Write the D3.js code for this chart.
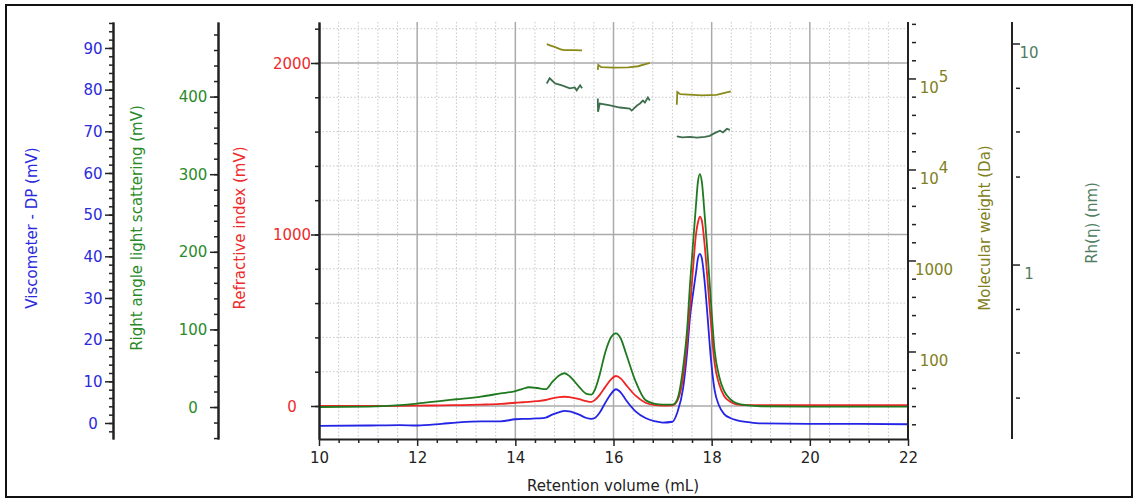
<!DOCTYPE html>
<html>
<head>
<meta charset="utf-8">
<script src="https://cdn.jsdelivr.net/npm/d3@7"></script>
<style>
body { margin: 0; background: #fff; }
svg { display: block; font-family: "DejaVu Sans", sans-serif; }
</style>
</head>
<body>
<div id="viz"></div>
<script>
// chromatogram traces (volume in mL)
const volume = [10, 11, 11.65, 12, 12.5, 12.8, 13.3, 13.7, 14, 14.15, 14.28, 14.45, 14.62, 14.75, 14.9, 15, 15.1, 15.3, 15.45, 15.55, 15.62, 15.72, 15.83, 15.95, 16.05, 16.15, 16.25, 16.45, 16.65, 16.85, 17, 17.2, 17.3, 17.42, 17.5, 17.56, 17.62, 17.68, 17.72, 17.76, 17.8, 17.86, 17.92, 17.98, 18.06, 18.15, 18.25, 18.38, 18.5, 18.75, 19, 20, 21, 22];
const viscometer = [-0.7, -0.6, -0.5, -0.6, -0.2, 0.1, 0.4, 0.4, 0.9, 1.0, 1.0, 1.1, 1.3, 2.0, 2.6, 2.9, 2.8, 2.0, 1.2, 1.0, 1.2, 2.5, 4.8, 7.0, 8.1, 7.3, 5.6, 2.8, 1.2, 0.4, 0.1, 0.3, 2.5, 8.5, 17, 25.5, 31, 36, 39.5, 40.6, 39.5, 33.5, 25, 16, 7.9, 4.2, 2.2, 1.2, 0.7, 0.2, -0.1, -0.2, -0.2, -0.3];
const rals = [0, 0.5, 2.5, 4.5, 8, 10, 13.5, 17.5, 20.5, 23.5, 25.5, 24.5, 23, 32, 41, 43.5, 40, 26, 17, 16, 22, 42, 70, 90, 95, 88, 70, 33, 9, 4, 3, 3, 10, 52, 100, 159, 210, 260, 290, 300, 290, 245, 195, 140, 73, 40, 21, 10, 5, 2, 1, 0.5, 0.5, 0.4];
const ri = [0, 0, 1, 2, 4, 5, 8, 12, 19, 22, 24, 28, 35, 45, 52, 54, 52, 40, 28, 24, 35, 65, 110, 155, 175, 160, 125, 60, 19, 5, 3, 4, 30, 171, 380, 579, 800, 1000, 1070, 1104, 1080, 929, 720, 500, 249, 130, 60, 25, 10, 5, 5, 5, 5, 5];

// molecular weight segments (Da)
const mwVolume1 = [14.64, 14.8, 15.0, 15.2, 15.36];
const mw1 = [242000, 225000, 208000, 207000, 206000];
const mwVolume2 = [15.68, 15.69, 15.75, 16.0, 16.3, 16.5, 16.74];
const mw2 = [126000, 143000, 135000, 133000, 134000, 138000, 150000];
const mwVolume3 = [17.29, 17.3, 17.36, 17.8, 18.1, 18.39];
const mw3 = [52000, 72000, 68000, 66000, 67000, 73000];

// hydrodynamic radius segments (nm)
const rhVolume1 = [14.64, 14.7, 14.81, 14.95, 15.11, 15.21, 15.25, 15.32, 15.36];
const rh1 = [6.63, 7.0, 6.63, 6.5, 6.3, 6.36, 6.17, 6.5, 6.3];
const rhVolume2 = [15.68, 15.685, 15.72, 15.93, 16.13, 16.33, 16.37, 16.48, 16.54, 16.6, 16.64, 16.7, 16.74];
const rh2 = [5.67, 4.94, 5.38, 5.27, 5.16, 5.1, 5.0, 5.27, 5.38, 5.55, 5.43, 5.73, 5.55];
const rhVolume3 = [17.29, 17.4, 17.56, 17.7, 17.86, 17.96, 18.07, 18.17, 18.23, 18.31, 18.37];
const rh3 = [3.82, 3.78, 3.8, 3.77, 3.8, 3.84, 3.96, 4.05, 3.98, 4.13, 4.09];

// axis ticks
const volumeTicks = [10, 12, 14, 16, 18, 20, 22];
const dpTicks = [0, 10, 20, 30, 40, 50, 60, 70, 80, 90];
const lsTicks = [0, 100, 200, 300, 400];
const riTicks = [0, 1000, 2000];
const mwTicks = [100, 1000, 10000, 100000];
const rhTicks = [1, 10];
const rhMinorTicks = [6.3, 4, 2.5, 0.63, 0.4, 0.25];

const W = 1139, H = 503;
const plot = {left: 319, right: 908, top: 22, bottom: 439};

const c = {
  dp: "#2424e4", dpText: "#2b2bdc",
  ls: "#1f7a1f", lsText: "#2a8a2a",
  ri: "#f02424", riText: "#ee2b2b",
  mw: "#8a8a1a", mwText: "#808020",
  rh: "#3f6e4f", rhText: "#4f7d5f"
};

const svg = d3.select("#viz").append("svg")
  .attr("width", W).attr("height", H);

svg.append("rect").attr("x", 6).attr("y", 5).attr("width", 1126).attr("height", 492)
  .attr("fill", "#fff").attr("stroke", "#111").attr("stroke-width", 2);

const x = d3.scaleLinear().domain([10, 22]).range([plot.left, plot.right]);
const yRI = d3.scaleLinear().domain([-192.4, 2239]).range([plot.bottom, plot.top]);
const yLS = d3.scaleLinear().domain([-41.2, 496.1]).range([plot.bottom, plot.top]);
const yDP = d3.scaleLinear().domain([-3.84, 96.23]).range([plot.bottom, plot.top]);
const yMW = d3.scaleLog().domain([Math.pow(10, 1.044), Math.pow(10, 5.626)]).range([plot.bottom, plot.top]);
const yRh = d3.scaleLog().domain([Math.pow(10, -0.787), Math.pow(10, 1.0995)]).range([plot.bottom, plot.top]);

// grid
const grid = svg.append("g");
const minorVol = d3.range(0, 31).map(i => 10 + i * 0.4).filter(v => Math.abs(v / 2 - Math.round(v / 2)) > 0.01);
grid.selectAll(".vd").data(minorVol).join("line")
  .attr("x1", d => x(d)).attr("x2", d => x(d))
  .attr("y1", plot.top).attr("y2", plot.bottom)
  .attr("stroke", "#c8c8c8").attr("stroke-dasharray", "1.5,2");
const minorRI = d3.range(1, 12).map(i => i * 200).filter(v => v % 1000 !== 0);
grid.selectAll(".hd").data(minorRI).join("line")
  .attr("x1", plot.left).attr("x2", plot.right)
  .attr("y1", d => yRI(d)).attr("y2", d => yRI(d))
  .attr("stroke", "#c8c8c8").attr("stroke-dasharray", "1.5,2");
grid.selectAll(".vs").data(volumeTicks.slice(1, -1)).join("line")
  .attr("x1", d => x(d)).attr("x2", d => x(d))
  .attr("y1", plot.top).attr("y2", plot.bottom)
  .attr("stroke", "#aaa").attr("stroke-width", 1.5);
grid.selectAll(".hs").data(riTicks).join("line")
  .attr("x1", plot.left).attr("x2", plot.right)
  .attr("y1", d => yRI(d)).attr("y2", d => yRI(d))
  .attr("stroke", "#aaa").attr("stroke-width", 1.5);

svg.append("clipPath").attr("id", "clip").append("rect")
  .attr("x", plot.left).attr("y", plot.top)
  .attr("width", plot.right - plot.left).attr("height", plot.bottom - plot.top);
const traces = svg.append("g").attr("clip-path", "url(#clip)");

function trace(xs, ys, yScale, color, curve) {
  const line = d3.line()
    .x((d, i) => x(xs[i]))
    .y(d => yScale(d))
    .curve(curve || d3.curveMonotoneX);
  traces.append("path").datum(ys)
    .attr("d", line)
    .attr("fill", "none")
    .attr("stroke", color)
    .attr("stroke-width", 1.8);
}

trace(volume, viscometer, yDP, c.dp);
trace(volume, ri, yRI, c.ri);
trace(volume, rals, yLS, c.ls);
trace(mwVolume1, mw1, yMW, c.mw);
trace(mwVolume2, mw2, yMW, c.mw, d3.curveLinear);
trace(mwVolume3, mw3, yMW, c.mw, d3.curveLinear);
trace(rhVolume1, rh1, yRh, c.rh, d3.curveLinear);
trace(rhVolume2, rh2, yRh, c.rh, d3.curveLinear);
trace(rhVolume3, rh3, yRh, c.rh, d3.curveLinear);

// axes
function styleAxis(g, color) {
  g.select(".domain").attr("stroke", "#222").attr("stroke-width", 2);
  g.selectAll(".tick line").attr("stroke", "#222").attr("stroke-width", 1.5);
  g.selectAll("text").attr("fill", color).style("font-size", "15px")
    .style("font-family", "DejaVu Sans, sans-serif");
}

// x axis
const xMinor = svg.append("g").attr("transform", `translate(0,${plot.bottom})`)
  .call(d3.axisBottom(x).tickValues(minorVol).tickSize(4).tickFormat(""));
styleAxis(xMinor, "#222");
xMinor.select(".domain").remove();
const xAxis = svg.append("g").attr("transform", `translate(0,${plot.bottom})`)
  .call(d3.axisBottom(x).tickValues(volumeTicks).tickSize(7).tickSizeOuter(0).tickPadding(6));
styleAxis(xAxis, "#222");

// left axes: viscometer, light scattering, refractive index
function leftAxis(pos, scale, ticks, minorStep, color, labelX) {
  const dom = scale.domain();
  const minor = d3.range(Math.ceil(dom[0] / minorStep), Math.floor(dom[1] / minorStep) + 1).map(i => i * minorStep);
  const gm = svg.append("g").attr("transform", `translate(${pos},0)`)
    .call(d3.axisLeft(scale).tickValues(minor).tickSize(4).tickSizeOuter(0).tickFormat(""));
  styleAxis(gm, color);
  const g = svg.append("g").attr("transform", `translate(${pos},0)`)
    .call(d3.axisLeft(scale).tickValues(ticks).tickSize(8).tickSizeOuter(0).tickFormat(d3.format("d")));
  styleAxis(g, color);
  g.selectAll(".tick text").attr("text-anchor", "middle").attr("x", labelX - pos).attr("dy", "0.34em");
  return g;
}
leftAxis(113, yDP, dpTicks, 2, c.dpText, 93);
leftAxis(218, yLS, lsTicks, 20, c.lsText, 193);
leftAxis(plot.left, yRI, riTicks, 200, c.riText, 292);

// right axes: molecular weight, Rh
function rightAxis(pos, scale, majors, minors, color, labelX, sup) {
  const g = svg.append("g");
  g.append("line").attr("x1", pos).attr("x2", pos)
    .attr("y1", plot.top).attr("y2", plot.bottom)
    .attr("stroke", "#222").attr("stroke-width", 2);
  g.selectAll(".mn").data(minors).join("line")
    .attr("x1", pos + 4).attr("x2", pos + 8)
    .attr("y1", d => scale(d)).attr("y2", d => scale(d))
    .attr("stroke", "#222").attr("stroke-width", 1.5);
  g.selectAll(".mj").data(majors).join("line")
    .attr("x1", pos).attr("x2", pos + 8)
    .attr("y1", d => scale(d)).attr("y2", d => scale(d))
    .attr("stroke", "#222").attr("stroke-width", 1.5);
  const t = g.selectAll(".lb").data(majors).join("text")
    .attr("x", labelX).attr("y", d => scale(d) + 9)
    .attr("dy", "0.35em").attr("text-anchor", "middle")
    .attr("fill", color).style("font-size", "15px");
  t.each(function(d) {
    const e = Math.round(Math.log10(d));
    const el = d3.select(this);
    if (sup && e >= 4) {
      el.append("tspan").text("10");
      el.append("tspan").attr("dy", "-0.75em").text(e);
    } else {
      el.text(d);
    }
  });
}
const mwMinor = d3.range(6, 29).map(i => Math.pow(10, i * 0.2)).filter((v, i) => (i + 6) % 5 !== 0);
rightAxis(plot.right, yMW, mwTicks, mwMinor, c.mwText, 934, true);
rightAxis(1012, yRh, rhTicks, rhMinorTicks, c.rhText, 1029, false);

// axis titles
function title(txt, tx, ty, color, rot) {
  svg.append("text")
    .attr("transform", `translate(${tx},${ty})` + (rot ? " rotate(-90)" : ""))
    .attr("text-anchor", "middle").attr("dy", "0.35em")
    .attr("fill", color).style("font-size", "15px")
    .text(txt);
}
title("Viscometer - DP (mV)", 32, 228, c.dpText, true);
title("Right angle light scattering (mV)", 137, 228, c.lsText, true);
title("Refractive index (mV)", 240, 228, c.riText, true);
title("Molecular weight (Da)", 985, 228, c.mwText, true);
title("Rh(η) (nm)", 1092, 223, c.rhText, true);
title("Retention volume (mL)", 613, 486, "#222", false);
</script>
</body>
</html>
